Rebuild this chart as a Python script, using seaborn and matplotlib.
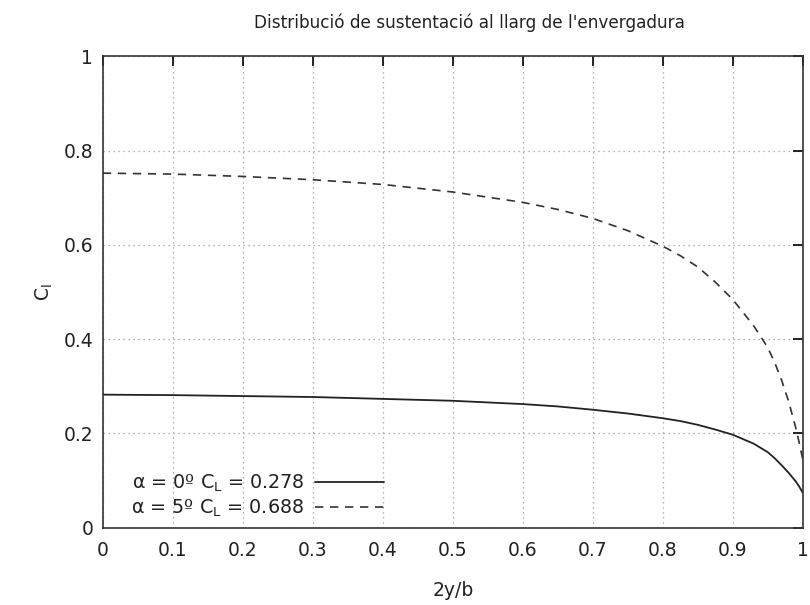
import numpy as np
import pandas as pd
import matplotlib
matplotlib.use("Agg")
import matplotlib.pyplot as plt
import seaborn as sns

# Spanwise stations (2y/b) and sectional lift coefficient for each angle of attack
span = [0.0, 0.1, 0.2, 0.3, 0.4, 0.5, 0.6, 0.65, 0.7, 0.75, 0.8, 0.825, 0.85, 0.875, 0.9,
        0.93, 0.95, 0.96, 0.97, 0.98, 0.99, 0.995, 1.0]
cl_alpha0 = [0.282, 0.281, 0.279, 0.277, 0.273, 0.269, 0.262, 0.257, 0.250, 0.242, 0.232,
             0.226, 0.218, 0.208, 0.197, 0.178, 0.160, 0.147, 0.132, 0.116, 0.098, 0.087, 0.074]
cl_alpha5 = [0.752, 0.750, 0.745, 0.738, 0.728, 0.712, 0.690, 0.675, 0.656, 0.630, 0.597,
             0.577, 0.553, 0.521, 0.484, 0.428, 0.382, 0.350, 0.312, 0.267, 0.212, 0.180, 0.145]

label_alpha0 = "α = 0º C$_\\mathregular{L}$ = 0.278"
label_alpha5 = "α = 5º C$_\\mathregular{L}$ = 0.688"

x_ticks = [0, 0.1, 0.2, 0.3, 0.4, 0.5, 0.6, 0.7, 0.8, 0.9, 1]
x_ticklabels = ["0", "0.1", "0.2", "0.3", "0.4", "0.5", "0.6", "0.7", "0.8", "0.9", "1"]
y_ticks = [0, 0.2, 0.4, 0.6, 0.8, 1]
y_ticklabels = ["0", "0.2", "0.4", "0.6", "0.8", "1"]

df = pd.concat([
    pd.DataFrame({"x": span, "cl": cl_alpha0, "case": label_alpha0}),
    pd.DataFrame({"x": span, "cl": cl_alpha5, "case": label_alpha5}),
])

sns.set_theme(style="white")
plt.rcParams["font.family"] = ["DejaVu Sans"]
plt.rcParams["mathtext.fontset"] = "dejavusans"

fig = plt.figure(figsize=(8.1, 6.05), dpi=100)
ax = fig.add_axes([0.127, 0.128, 0.864, 0.779])

sns.lineplot(data=df[df["case"] == label_alpha0], x="x", y="cl", ax=ax,
             color="#222222", linewidth=1.3, label=label_alpha0)
sns.lineplot(data=df[df["case"] == label_alpha5], x="x", y="cl", ax=ax,
             color="#333333", linewidth=1.2, label=label_alpha5,
             linestyle=(0, (5, 4)))

ax.set_xlim(0, 1)
ax.set_ylim(0, 1)
ax.set_xticks(x_ticks)
ax.set_xticklabels(x_ticklabels)
ax.set_yticks(y_ticks)
ax.set_yticklabels(y_ticklabels)

ax.grid(True, color="#9a9a9a", linestyle=(0, (1, 3)), linewidth=0.9)
ax.tick_params(direction="in", length=7, width=1.2, color="black",
               top=True, right=True, labelsize=13.5, pad=7, labelcolor="#222222")
ax.tick_params(axis="x", pad=10)
for sp in ax.spines.values():
    sp.set_color("#333333")
    sp.set_linewidth(1.2)

ax.set_xlabel("2y/b", fontsize=13.5, color="#222222", labelpad=15)
ax.set_ylabel("C$_\\mathregular{l}$", fontsize=13.5, color="#222222", labelpad=6)

fig.text(0.579, 0.962, "Distribució de sustentació al llarg de l'envergadura",
         ha="center", va="center", fontsize=12.2, color="#222222")

leg = ax.legend(loc="lower left", bbox_to_anchor=(0.025, -0.005), frameon=False,
                markerfirst=False, fontsize=13.8, handlelength=3.65,
                handletextpad=0.55, labelspacing=0.22, borderaxespad=0.15)
for t in leg.get_texts():
    t.set_color("#222222")

fig.savefig("out.png", dpi=100)
